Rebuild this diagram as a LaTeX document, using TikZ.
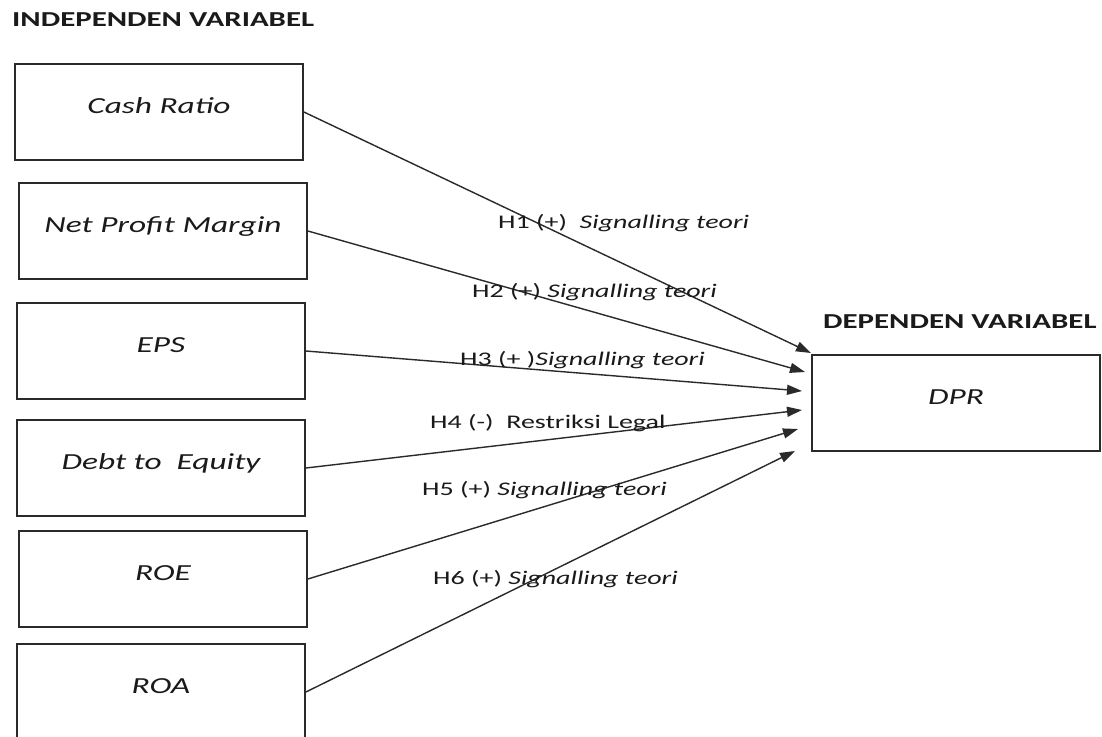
\documentclass[tikz,border=0pt]{standalone}
\usepackage{fontspec}
\setmainfont{Carlito}[FakeStretch=1.45]
\usetikzlibrary{arrows.meta}
\definecolor{dvink}{HTML}{1A1A1A}
\definecolor{dvline}{HTML}{2A2A2A}
\tikzset{
  var/.style={draw=dvline, line width=1.8pt, minimum width=288pt, minimum height=96pt, inner sep=0pt, text depth=12pt, font=\fontsize{23}{27}\selectfont\itshape, text=dvink},
  hd/.style={font=\fontsize{21.3}{25}\selectfont\bfseries, text=dvink, inner sep=0pt},
  hyp/.style={font=\fontsize{19.3}{23}\selectfont, text=dvink, inner sep=0pt, anchor=base west},
  arr/.style={-{Triangle[length=15pt, width=10pt]}, line width=1.4pt, color=dvline},
}

\begin{document}
\begin{tikzpicture}[x=1pt, y=-1pt]
  \path[fill=white, use as bounding box] (0,0) rectangle (1102,736);
  \clip (0,0) rectangle (1102,736);
  % headings
  \node[hd, anchor=base west] (indep) at (12,27) {INDEPENDEN VARIABEL};
  \node[hd, anchor=base west] (dep) at (823,328) {DEPENDEN VARIABEL};
  % independent variables
  \node[var] (cr) at (159,112) {Cash Ratio};
  \node[var] (npm) at (163,231) {Net Profit Margin};
  \node[var] (eps) at (161,351) {EPS};
  \node[var] (der) at (161,468) {Debt to~ Equity};
  \node[var] (roe) at (163,579) {ROE};
  \node[var] (roa) at (161,692) {ROA};
  % dependent variable
  \node[var] (dpr) at (956,403) {DPR};
  % arrow tips at DPR
  \coordinate (t1) at (811,353);
  \coordinate (t2) at (805,372);
  \coordinate (t3) at (802,391);
  \coordinate (t4) at (802,410);
  \coordinate (t5) at (798,429);
  \coordinate (t6) at (795,451);
  \draw[arr] (cr.east) -- (t1);
  \draw[arr] (npm.east) -- (t2);
  \draw[arr] (eps.east) -- (t3);
  \draw[arr] (der.east) -- (t4);
  \draw[arr] (roe.east) -- (t5);
  \draw[arr] (roa.east) -- (t6);
  % hypotheses
  \node[hyp] (h1) at (498,228) {H1 (+)\ \ \textit{Signalling teori}};
  \node[hyp] (h2) at (472,297) {H2 (+) \textit{Signalling teori}};
  \node[hyp] (h3) at (460,365) {H3 (+ )\textit{Signalling teori}};
  \node[hyp] (h4) at (430,428) {H4 (-)\ \ Restriksi Legal};
  \node[hyp] (h5) at (422,495) {H5 (+) \textit{Signalling teori}};
  \node[hyp] (h6) at (433,584) {H6 (+) \textit{Signalling teori}};
\end{tikzpicture}
\end{document}
